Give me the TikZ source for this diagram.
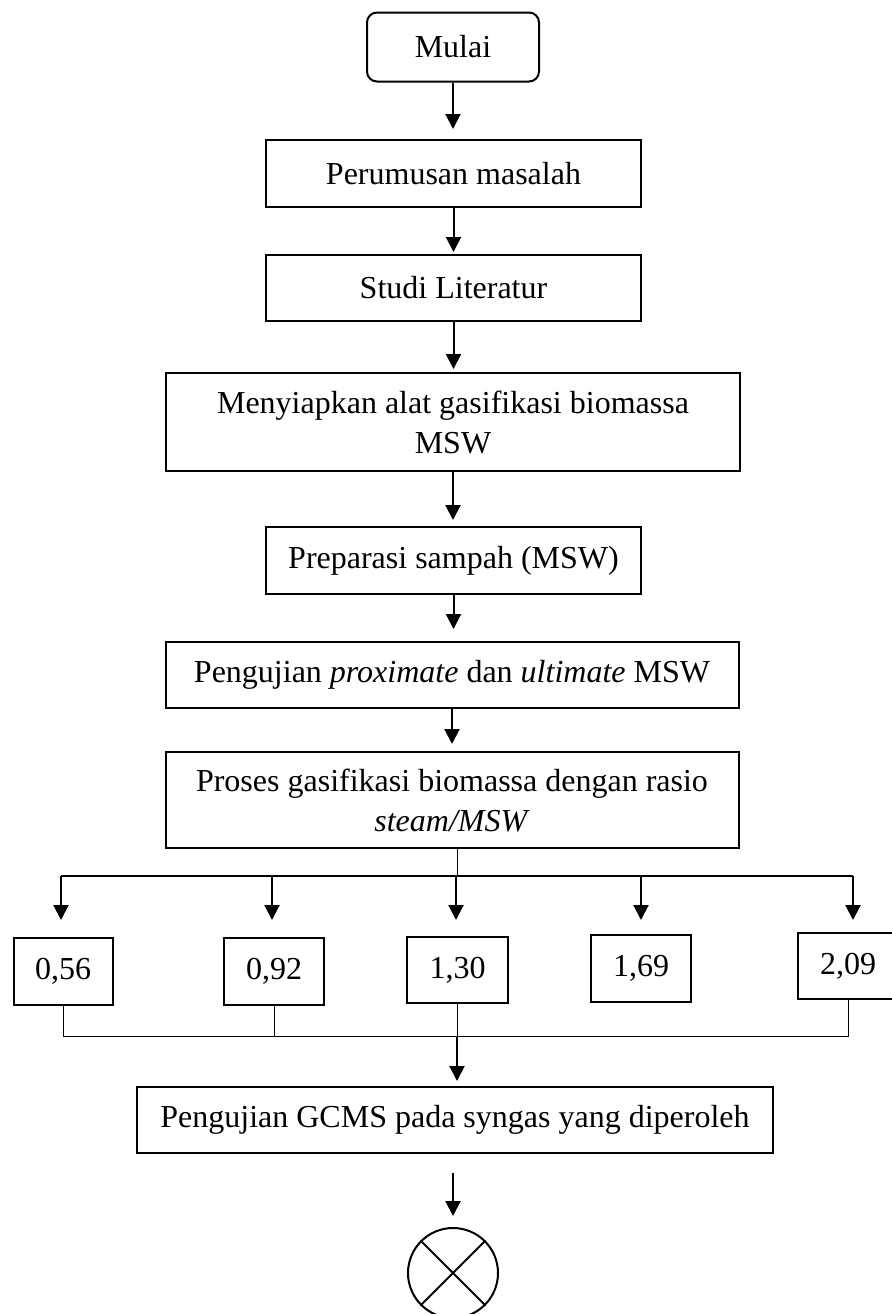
\documentclass[tikz,border=0pt]{standalone}
\usepackage{fontspec}
\setmainfont{Liberation Serif}
\usetikzlibrary{arrows.meta}

\tikzset{
  box/.style={draw, line width=1pt, inner sep=0pt, align=center,
    font=\fontsize{16}{20}\selectfont},
  arr/.style={-{Triangle[width=7.5pt,length=7.5pt]}, line width=1pt},
  joinline/.style={line width=0.5pt}
}

\begin{document}
\begin{tikzpicture}[x=0.5pt,y=-0.5pt]
\useasboundingbox (0,0) rectangle (892,1314);

\node[box, rounded corners=5pt, minimum width=86pt, minimum height=34.5pt] (mulai) at (453,47) {Mulai};
\node[box, minimum width=187.5pt, minimum height=33.5pt] (rumusan) at (453.5,173.5) {Perumusan masalah};
\node[box, minimum width=187.5pt, minimum height=33pt] (studi) at (453.5,288) {Studi Literatur};
\node[box, minimum width=287pt, minimum height=49pt] (alat) at (453,422) {Menyiapkan alat gasifikasi biomassa\\MSW};
\node[box, minimum width=187.5pt, minimum height=33.5pt] (preparasi) at (453.5,560.5) {Preparasi sampah (MSW)};
\node[box, minimum width=286.5pt, minimum height=33pt] (uji) at (452,675) {Pengujian \textit{proximate} dan \textit{ultimate} MSW};
\node[box, minimum width=286.5pt, minimum height=48pt] (proses) at (452,800) {Proses gasifikasi biomassa dengan rasio\\\textit{steam/MSW}};

\node[box, minimum width=49.5pt, minimum height=33.5pt] (r1) at (63,971.5) {0,56};
\node[box, minimum width=50pt, minimum height=33.5pt] (r2) at (274,971.5) {0,92};
\node[box, minimum width=50.5pt, minimum height=33pt] (r3) at (457.5,970) {1,30};
\node[box, minimum width=50pt, minimum height=33.5pt] (r4) at (641,968.5) {1,69};
\node[box, minimum width=50pt, minimum height=33pt] (r5) at (848,966) {2,09};

\node[box, minimum width=318pt, minimum height=33pt] (gcms) at (455,1120) {Pengujian GCMS pada syngas yang diperoleh};
\node[draw, line width=1pt, circle, inner sep=0pt, minimum size=45pt] (selesai) at (453,1273) {};
\draw[line width=1pt] (selesai.north west) -- (selesai.south east)
  (selesai.north east) -- (selesai.south west);

% alur utama
\draw[arr, shorten >=5pt] (mulai.south) -- (mulai.south |- rumusan.north);
\draw[arr, shorten >=1pt] (rumusan.south) -- (rumusan.south |- studi.north);
\draw[arr, shorten >=1.5pt] (studi.south) -- (studi.south |- alat.north);
\draw[arr, shorten >=3pt] (alat.south) -- (alat.south |- preparasi.north);
\draw[arr, shorten >=6pt] (preparasi.south) -- (preparasi.south |- uji.north);
\draw[arr, shorten >=3.5pt] (uji.south) -- (uji.south |- proses.north);

% percabangan rasio
\coordinate (bagi) at (457,876);
\draw[joinline] (proses.south -| bagi) -- (bagi);
\draw[line width=1pt] (61,876) -- (853,876);
\foreach \x/\r in {61/r1, 272/r2, 456/r3, 641/r4, 853/r5}
  \draw[arr, shorten >=6pt] (\x,876) -- (\x,932);

% penggabungan
\coordinate (gabung) at (457,1036);
\draw[joinline] (r1.south) -- (r1.south |- gabung) -- (r5.south |- gabung) -- (r5.south);
\draw[joinline] (r2.south) -- (r2.south |- gabung);
\draw[joinline] (r3.south -| gabung) -- (gabung);
\draw[arr, shorten >=2.5pt] (gabung) -- (gabung |- gcms.north);
\draw[arr, shorten <=9.5pt, shorten >=5.5pt] (selesai.north |- gcms.south) -- (selesai.north);
\end{tikzpicture}
\end{document}
